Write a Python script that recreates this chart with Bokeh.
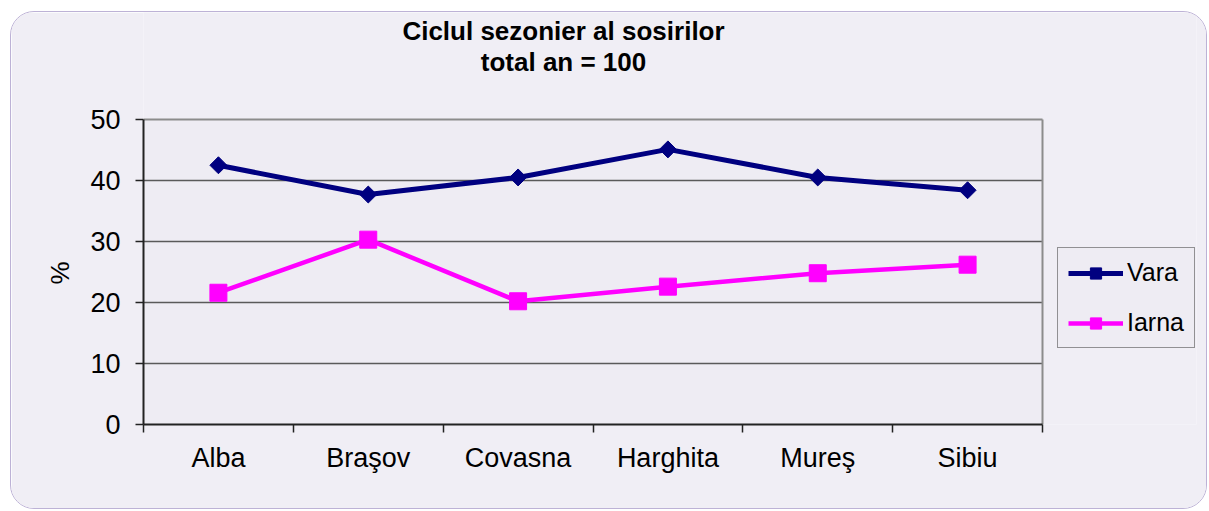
import math
from bokeh.plotting import figure
from bokeh.models import (Range1d, FixedTicker, Title, Legend, LegendItem, Label)
from bokeh.embed import file_html
from bokeh.resources import INLINE

categories = ["Alba", "Braşov", "Covasna", "Harghita", "Mureş", "Sibiu"]
vara = [42.5, 37.7, 40.5, 45.1, 40.5, 38.4]
iarna = [21.6, 30.3, 20.2, 22.6, 24.8, 26.2]
y_ticks = [0, 10, 20, 30, 40, 50]
grid_vals = [10, 20, 30, 40]
title_lines = ["Ciclul sezonier al sosirilor", "total an = 100"]

FONT = "Liberation Sans"
BG = "#F0EEF5"
FRAME_BG = "#EEECF3"

n = len(categories)
x = [i + 0.5 for i in range(n)]
y_max = y_ticks[-1]

# frame: page x 143..1196 (categories occupy 143..1042), page y 12..424 (values 0..50 in 119..424)
X_END = n * 1053 / 899
Y_END = y_max * 412 / 305

p = figure(width=1197, height=498, output_backend="svg", toolbar_location=None,
           x_range=Range1d(0, X_END), y_range=Range1d(0, Y_END),
           min_border_left=132, min_border_right=12, min_border_top=0,
           min_border_bottom=86, title=None)
p.styles = {"margin-left": "10px", "margin-top": "11px", "border": "1px solid #BDB2D6",
            "border-radius": "24px", "overflow": "hidden"}
p.border_fill_color = BG
p.background_fill_color = BG
p.outline_line_color = None
p.xgrid.visible = False
p.ygrid.visible = False

# plot area
p.quad(left=[0], right=[n], bottom=[0], top=[y_max], fill_color=FRAME_BG, line_color=None)
p.segment(x0=[0] * len(grid_vals), x1=[n] * len(grid_vals), y0=grid_vals, y1=grid_vals,
          line_color="#5A5A5A", line_width=1.3)
p.segment(x0=[0], x1=[n], y0=[y_max], y1=[y_max], line_color="#8C8C8C", line_width=2)
p.segment(x0=[n], x1=[n], y0=[0], y1=[y_max], line_color="#8C8C8C", line_width=2)

# titles
cx = (563 - 143) * n / 899
p.add_layout(Label(x=cx, y=(424.3 - 31) / 6.1, text=title_lines[0], text_align="center",
                   text_baseline="middle", text_font=FONT, text_font_size="26px",
                   text_font_style="bold", text_color="black"))
p.add_layout(Label(x=cx, y=(424.3 - 62) / 6.1, text=title_lines[1], text_align="center",
                   text_baseline="middle", text_font=FONT, text_font_size="26px",
                   text_font_style="bold", text_color="black"))

# x axis: labels at category centres, ticks at boundaries
xa = p.xaxis[0]
xa.bounds = (0, n)
xa.ticker = FixedTicker(ticks=x, minor_ticks=list(range(n + 1)))
xa.major_label_overrides = {v: c for v, c in zip(x, categories)}
xa.major_tick_out = 0
xa.major_tick_in = 0
xa.minor_tick_out = 8
xa.minor_tick_in = 0
xa.minor_tick_line_color = "#222222"
xa.minor_tick_line_width = 1.5
xa.axis_line_color = "#222222"
xa.axis_line_width = 2
xa.major_label_text_font = FONT
xa.major_label_text_font_size = "27px"
xa.major_label_text_color = "black"
xa.major_label_standoff = 10

ya = p.yaxis[0]
ya.bounds = (0, y_max)
ya.ticker = FixedTicker(ticks=y_ticks)
ya.minor_tick_out = 0
ya.minor_tick_in = 0
ya.major_tick_out = 8
ya.major_tick_in = 0
ya.major_tick_line_color = "#222222"
ya.major_tick_line_width = 1.5
ya.axis_line_color = "#222222"
ya.axis_line_width = 2
ya.major_label_text_font = FONT
ya.major_label_text_font_size = "27px"
ya.major_label_text_color = "black"
ya.major_label_standoff = 15

# "%" axis title, centred on the 0..50 span
pct = Title(text="%", align="left", offset=140, standoff=26, text_font=FONT,
            text_font_size="26px", text_font_style="normal", text_color="black")
p.add_layout(pct, "left")

r1l = p.line(x, vara, line_color="#000080", line_width=5)
r1m = p.scatter(x, vara, marker="square", angle=math.pi / 4, size=12,
                fill_color="#000080", line_color="#000080")
r2l = p.line(x, iarna, line_color="#FF00FF", line_width=4.5)
r2m = p.scatter(x, iarna, marker="square", size=17,
                fill_color="#FF00FF", line_color="#FF00FF")

legend = Legend(items=[LegendItem(label="Vara", renderers=[r1l, r1m]),
                       LegendItem(label="Iarna", renderers=[r2l, r2m])],
                location=(914, 76), orientation="vertical")
legend.background_fill_color = FRAME_BG
legend.background_fill_alpha = 1
legend.border_line_color = "#333333"
legend.border_line_width = 1.2
legend.label_text_font = FONT
legend.label_text_font_size = "25px"
legend.label_text_color = "black"
legend.glyph_width = 55
legend.glyph_height = 28
legend.label_height = 28
legend.spacing = 21
legend.padding = 10
legend.label_standoff = 4
legend.margin = 0
p.add_layout(legend, "center")

open("out.html", "w").write(file_html(p, INLINE))
